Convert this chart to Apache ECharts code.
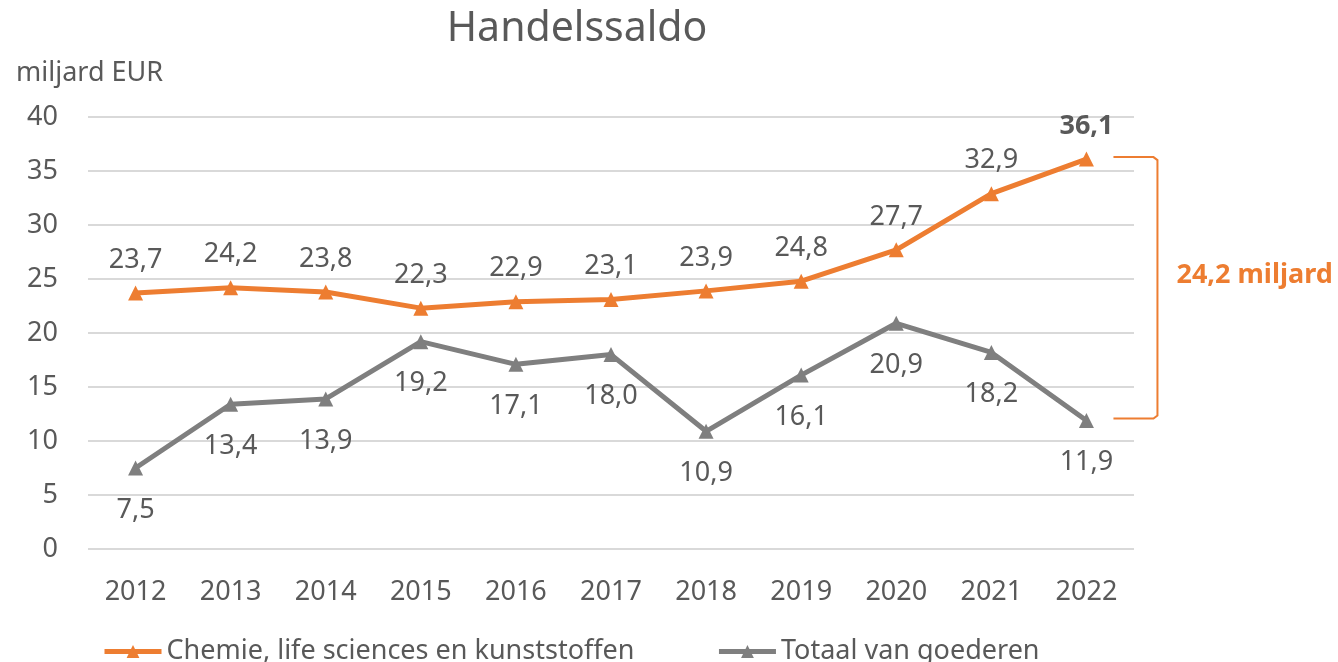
<!DOCTYPE html>
<html lang="nl">
<head>
    <meta charset="UTF-8">
    <title>Handelssaldo</title>
    <script src="https://cdn.jsdelivr.net/npm/echarts@6/dist/echarts.min.js"></script>
    <style>
        html, body { margin: 0; padding: 0; background: #fff; }
        #main { width: 1338px; height: 662px; }
    </style>
</head>
<body>
    <div id="main"></div>
    <script type="text/javascript">
        // data
        var years = ['2012', '2013', '2014', '2015', '2016', '2017', '2018', '2019', '2020', '2021', '2022'];
        var chemie = [23.7, 24.2, 23.8, 22.3, 22.9, 23.1, 23.9, 24.8, 27.7, 32.9, 36.1];
        var totaal = [7.5, 13.4, 13.9, 19.2, 17.1, 18.0, 10.9, 16.1, 20.9, 18.2, 11.9];
        var names = ['Chemie, life sciences en kunststoffen', 'Totaal van goederen'];
        var verschil = '24,2 miljard';

        var font = 'Noto Sans';
        var fmt = function (p) { return p.value.toFixed(1).replace('.', ','); };

        var chart = echarts.init(document.getElementById('main'));
        var option = {
            animation: false,
            textStyle: { fontFamily: font },
            title: [
                {
                    text: 'Handelssaldo',
                    left: 572, top: 4, textAlign: 'center',
                    textStyle: { fontSize: 41, fontWeight: 'normal', color: '#595959', fontFamily: font }
                },
                {
                    text: 'miljard EUR',
                    left: 11, top: 55,
                    textStyle: { fontSize: 27, fontWeight: 'normal', color: '#595959', fontFamily: font }
                }
            ],
            grid: { left: 88, right: 204, top: 117, bottom: 113 },
            legend: {
                data: names,
                left: 97, top: 633,
                itemWidth: 57, itemHeight: 16, itemGap: 82,
                lineStyle: { width: 5 },
                textStyle: { fontSize: 27, color: '#595959', fontFamily: font }
            },
            xAxis: {
                type: 'category',
                data: years,
                axisLine: { show: false },
                axisTick: { show: false },
                axisLabel: { fontSize: 27, color: '#595959', margin: 30 }
            },
            yAxis: {
                type: 'value',
                min: 0, max: 40, interval: 5,
                axisLabel: { fontSize: 27, color: '#595959', margin: 30 },
                splitLine: { lineStyle: { color: '#d9d9d9', width: 2 } }
            },
            series: [
                {
                    name: names[0],
                    type: 'line',
                    data: chemie.map(function (v, i) {
                        if (i === chemie.length - 1) {
                            return { value: v, label: { fontWeight: 'bold' } };
                        }
                        return v;
                    }),
                    symbol: 'triangle', symbolSize: 15,
                    lineStyle: { color: '#ED7D31', width: 5 },
                    itemStyle: { color: '#ED7D31' },
                    label: { show: true, position: 'top', distance: 12, fontSize: 27, color: '#595959', formatter: fmt }
                },
                {
                    name: names[1],
                    type: 'line',
                    data: totaal,
                    symbol: 'triangle', symbolSize: 15,
                    lineStyle: { color: '#7F7F7F', width: 5 },
                    itemStyle: { color: '#7F7F7F' },
                    label: { show: true, position: 'bottom', distance: 21, fontSize: 27, color: '#595959', formatter: fmt }
                }
            ]
        };
        chart.setOption(option);

        // accolade rechts tussen de twee waarden van 2022
        var last = years.length - 1;
        var pTop = chart.convertToPixel({ seriesIndex: 0 }, [last, chemie[last]]);
        var pBot = chart.convertToPixel({ seriesIndex: 1 }, [last, totaal[last]]);
        var x0 = pTop[0] + 27, x1 = pTop[0] + 71;
        var yT = pTop[1] - 2, yB = pBot[1] - 2;
        chart.setOption({
            graphic: [
                {
                    type: 'polyline',
                    shape: {
                        points: [
                            [x0, yT], [x1 - 4, yT], [x1, yT + 3],
                            [x1, yB - 3], [x1 - 4, yB], [x0, yB]
                        ]
                    },
                    style: { fill: null, stroke: '#ED7D31', lineWidth: 2 }
                },
                {
                    type: 'text',
                    x: x1 + 19,
                    y: (yT + yB) / 2 - 12,
                    style: {
                        text: verschil,
                        fill: '#ED7D31',
                        font: 'bold 27px "Noto Sans"',
                        verticalAlign: 'middle'
                    }
                }
            ]
        });
    </script>
</body>
</html>
